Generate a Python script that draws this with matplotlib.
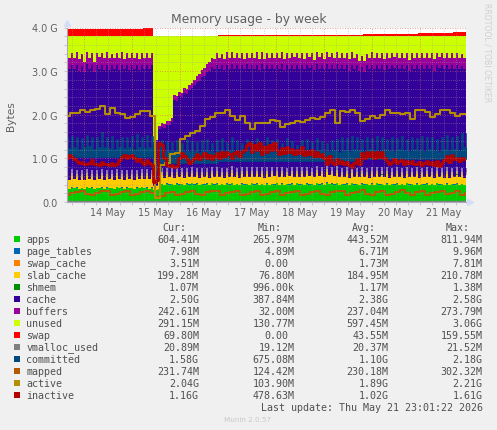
import numpy as np
import pandas as pd
import matplotlib
matplotlib.use('Agg')
import matplotlib.pyplot as plt
from matplotlib.dates import DayLocator, HourLocator

# values in GB, one sample per 75 min (161 samples)
apps = [.32,.30,.33,.31,.33,.30,.32,.30,.34,.31,
        .33,.30,.32,.31,.33,.30,.33,.31,.32,.30,
        .34,.31,.33,.30,.33,.31,.32,.30,.33,.31,
        .34,.31,.33,.30,.33,.28,.27,.30,.41,.39,
        .42,.40,.41,.38,.42,.40,.41,.39,.42,.40,
        .43,.40,.42,.39,.41,.40,.42,.39,.43,.40,
        .42,.39,.41,.38,.42,.40,.43,.39,.41,.38,
        .42,.40,.41,.39,.43,.40,.42,.39,.41,.38,
        .42,.39,.41,.40,.43,.39,.42,.38,.41,.40,
        .42,.39,.43,.40,.41,.38,.42,.40,.41,.39,
        .43,.40,.42,.39,.44,.41,.42,.40,.43,.39,
        .41,.40,.42,.38,.43,.40,.41,.39,.42,.40,
        .41,.38,.42,.39,.43,.40,.41,.39,.42,.38,
        .41,.40,.42,.39,.41,.38,.43,.40,.41,.39,
        .42,.38,.41,.40,.42,.39,.41,.38,.43,.40,
        .41,.39,.42,.38,.41,.40,.42,.39,.41,.38,
        .41]
slab_cache = [.24,.20,.25,.21,.24,.20,.24,.20,.25,.21,
              .24,.20,.24,.21,.25,.20,.24,.21,.24,.20,
              .25,.21,.24,.20,.24,.21,.25,.20,.24,.21,
              .24,.20,.25,.21,.24,.08,.09,.16,.20,.16,
              .20,.16,.20,.16,.20,.16,.20,.16,.20,.16,
              .20,.16,.20,.16,.20,.16,.20,.16,.20,.16,
              .21,.17,.21,.17,.20,.17,.22,.18,.21,.17,
              .21,.17,.22,.18,.21,.17,.21,.18,.22,.17,
              .21,.17,.22,.18,.21,.17,.22,.18,.21,.18,
              .22,.18,.21,.17,.22,.18,.22,.18,.21,.18,
              .23,.18,.22,.18,.23,.19,.22,.18,.22,.17,
              .21,.17,.21,.17,.22,.17,.21,.17,.21,.16,
              .21,.17,.21,.17,.21,.16,.21,.17,.21,.17,
              .20,.16,.21,.17,.20,.17,.21,.16,.20,.17,
              .21,.17,.20,.16,.21,.17,.20,.16,.21,.17,
              .20,.16,.21,.17,.20,.16,.20,.17,.20,.16,
              .20]
cache = [2.57,2.54,2.56,2.52,2.57,2.50,2.55,2.48,2.56,2.52,
         2.57,2.46,2.56,2.53,2.56,2.52,2.57,2.50,2.56,2.54,
         2.55,2.50,2.57,2.53,2.56,2.50,2.56,2.54,2.57,2.50,
         2.55,2.52,2.56,2.53,2.57,.95,1.00,1.20,1.10,1.14,
         1.14,1.19,1.22,1.80,1.70,1.86,1.79,1.94,1.85,2.00,
         1.97,2.11,2.12,2.22,2.25,2.33,2.36,2.45,2.45,2.48,
         2.51,2.48,2.50,2.47,2.52,2.46,2.50,2.48,2.52,2.49,
         2.50,2.46,2.52,2.47,2.50,2.48,2.51,2.44,2.52,2.49,
         2.50,2.48,2.50,2.47,2.49,2.48,2.51,2.46,2.50,2.47,
         2.50,2.48,2.49,2.46,2.51,2.47,2.50,2.48,2.50,2.44,
         2.49,2.47,2.50,2.46,2.48,2.45,2.50,2.47,2.50,2.48,
         2.51,2.48,2.50,2.45,2.49,2.47,2.50,2.44,2.46,2.42,
         2.50,2.48,2.51,2.47,2.50,2.48,2.50,2.46,2.51,2.48,
         2.52,2.49,2.50,2.47,2.51,2.48,2.50,2.44,2.51,2.48,
         2.50,2.49,2.52,2.48,2.50,2.47,2.51,2.46,2.50,2.48,
         2.52,2.49,2.50,2.48,2.51,2.47,2.52,2.48,2.50,2.49,
         2.50]
buffers = [.28,.26,.27,.24,.28,.26,.27,.22,.28,.26,
           .26,.24,.28,.27,.27,.26,.28,.26,.27,.25,
           .27,.26,.28,.24,.27,.26,.28,.26,.27,.25,
           .28,.26,.27,.26,.27,.05,.05,.08,.09,.09,
           .09,.09,.09,.10,.10,.10,.10,.11,.11,.12,
           .12,.13,.14,.15,.16,.17,.18,.20,.22,.24,
           .26,.25,.27,.26,.28,.26,.27,.25,.27,.26,
           .28,.25,.26,.26,.27,.25,.28,.26,.27,.24,
           .27,.26,.28,.25,.27,.26,.27,.26,.28,.25,
           .27,.26,.28,.26,.27,.25,.27,.26,.28,.24,
           .27,.26,.27,.25,.28,.26,.27,.25,.27,.26,
           .28,.25,.27,.26,.28,.25,.27,.22,.24,.24,
           .27,.26,.28,.25,.27,.26,.28,.25,.27,.26,
           .28,.26,.27,.25,.28,.26,.27,.25,.28,.26,
           .27,.26,.28,.26,.27,.25,.28,.26,.27,.26,
           .28,.25,.27,.26,.28,.26,.27,.25,.28,.26,
           .27]
ram_total = 3.815

# slow series as level + how many samples it holds
swap_levels = [.155, .165, 0, .008, .035, .06, .085]
swap_runs = [31, 4, 26, 58, 22, 14, 6]
page_tables_levels = [.007, .005, .007]
page_tables_runs = [35, 26, 100]
swap_cache_levels = [.002, 0, .001, .003]
swap_cache_runs = [35, 26, 60, 40]
shmem_levels = [.001]
shmem_runs = [161]
vmalloc_levels = [.02]
vmalloc_runs = [161]

committed = [1.48,1.24,1.52,1.26,1.50,1.22,1.46,1.25,1.54,1.28,
             1.48,1.22,1.50,1.26,1.60,1.25,1.48,1.24,1.52,1.22,
             1.44,1.26,1.50,1.24,1.48,1.25,1.52,1.22,1.56,1.26,
             1.50,1.24,1.54,1.25,1.52,.75,.90,1.35,1.42,1.18,
             1.40,1.16,1.38,1.18,1.42,1.15,1.36,1.18,1.44,1.16,
             1.40,1.18,1.38,1.14,1.42,1.16,1.44,1.18,1.36,1.15,
             1.42,1.18,1.46,1.16,1.38,1.20,1.48,1.16,1.42,1.18,
             1.36,1.15,1.44,1.18,1.40,1.20,1.46,1.16,1.38,1.18,
             1.48,1.20,1.42,1.16,1.44,1.18,1.36,1.20,1.46,1.16,
             1.40,1.18,1.30,1.15,1.42,1.20,1.44,1.16,1.38,1.18,
             1.46,1.20,1.40,1.16,1.36,1.18,1.42,1.20,1.44,1.15,
             1.50,1.20,1.46,1.18,1.52,1.22,1.48,1.20,1.44,1.18,
             1.50,1.22,1.46,1.20,1.52,1.18,1.48,1.22,1.44,1.20,
             1.50,1.18,1.46,1.22,1.52,1.20,1.44,1.18,1.50,1.22,
             1.46,1.20,1.52,1.18,1.48,1.22,1.50,1.20,1.44,1.18,
             1.50,1.22,1.54,1.20,1.48,1.22,1.52,1.20,1.58,1.25,
             1.58]
committed_floor_levels = [1.03, .70, .90, .93, .99]
committed_floor_runs = [35, 3, 23, 58, 42]

inactive = [1.02,1.08,1.04,.98,.95,.90,.92,.88,.86,.90,
            .96,.88,.86,.84,.92,.86,.88,.84,.90,.85,
            .88,.96,1.04,1.08,1.00,1.06,1.08,1.00,.94,.98,
            .92,.86,.96,.90,.84,.45,.50,1.35,1.30,1.00,
            .85,.82,.85,.80,.82,1.00,1.12,1.06,.98,.90,
            .95,1.00,1.10,.98,1.05,1.12,1.00,1.08,.98,1.05,
            1.12,1.02,1.15,1.06,1.15,1.10,1.00,1.12,1.18,1.05,
            1.15,1.20,1.30,1.35,1.15,1.30,1.20,1.35,1.10,1.25,
            1.15,1.30,1.20,1.35,1.20,1.10,1.24,1.12,1.25,1.15,
            1.22,1.10,1.20,1.12,1.25,1.08,1.18,1.10,1.20,1.05,
            1.14,1.06,1.10,1.02,.88,1.05,.92,.86,.98,.90,
            .95,.88,.92,.84,.80,.90,.98,.88,1.12,1.00,
            1.14,1.05,1.15,1.02,1.14,1.04,1.15,1.00,.95,.88,
            .92,.98,.90,.94,.96,.88,.95,.90,.94,.88,
            .86,.92,.84,.90,.95,.86,.92,.85,.94,.82,
            .90,.96,1.05,.92,1.08,.98,1.02,.95,1.00,.98,
            1.00]

# one sample per 150 min (81 samples)
active = [1.97,2.03,2.05,2.12,2.07,2.10,2.14,2.19,2.01,2.16,
          2.04,2.02,1.93,1.95,2.02,2.08,2.08,1.98,.10,.85,
          .90,1.10,1.12,1.45,1.52,1.58,1.62,1.75,1.90,1.95,
          2.03,2.04,2.10,1.98,1.88,1.98,1.80,1.68,1.82,1.80,
          1.82,1.88,1.86,1.72,1.78,1.82,1.85,1.84,1.88,1.92,
          1.90,1.95,2.03,2.10,1.80,2.08,2.07,2.10,2.05,1.85,
          1.90,1.98,1.92,2.00,2.12,2.05,2.05,2.02,2.05,1.90,
          2.12,2.10,2.06,1.95,2.02,2.10,2.10,2.05,1.97,2.02,
          2.02]
mapped = [.16,.20,.24,.25,.18,.16,.21,.25,.26,.17,
          .18,.22,.25,.16,.19,.23,.26,.20,.12,.14,
          .20,.24,.17,.19,.24,.26,.18,.17,.22,.25,
          .26,.16,.20,.24,.26,.17,.19,.23,.25,.16,
          .18,.23,.26,.17,.20,.24,.25,.16,.19,.23,
          .26,.18,.17,.22,.25,.26,.17,.20,.24,.27,
          .18,.17,.22,.25,.16,.19,.24,.28,.20,.17,
          .23,.26,.16,.20,.24,.25,.18,.21,.26,.17,
          .20]

legend_names = ['apps', 'page_tables', 'swap_cache', 'slab_cache', 'shmem', 'cache', 'buffers',
                'unused', 'swap', 'vmalloc_used', 'committed', 'mapped', 'active', 'inactive']
legend_colors = ['#00CC00', '#0066B3', '#FF8000', '#FFCC00', '#008F00', '#330099', '#990099',
                 '#CCFF00', '#FF0000', '#808080', '#00487D', '#B35A00', '#B38F00', '#B30000']
cur_vals = ['604.41M', '7.98M', '3.51M', '199.28M', '1.07M', '2.50G', '242.61M',
            '291.15M', '69.80M', '20.89M', '1.58G', '231.74M', '2.04G', '1.16G']
min_vals = ['265.97M', '4.89M', '0.00 ', '76.80M', '996.00k', '387.84M', '32.00M',
            '130.77M', '0.00 ', '19.12M', '675.08M', '124.42M', '103.90M', '478.63M']
avg_vals = ['443.52M', '6.71M', '1.73M', '184.95M', '1.17M', '2.38G', '237.04M',
            '597.45M', '43.55M', '20.37M', '1.10G', '230.18M', '1.89G', '1.02G']
max_vals = ['811.94M', '9.96M', '7.81M', '210.78M', '1.38M', '2.58G', '273.79M',
            '3.06G', '159.55M', '21.52M', '2.18G', '302.32M', '2.21G', '1.61G']

fig_w, fig_h = 497, 431
fringe_tan = .07
fringe_lav = .16

times = pd.date_range('2026-05-13 15:30', periods=161, freq='75min')
times_coarse = pd.date_range('2026-05-13 15:30', periods=81, freq='150min')

apps = np.array(apps)
slab_cache = np.array(slab_cache)
cache = np.array(cache)
buffers = np.array(buffers)
swap = np.repeat(swap_levels, swap_runs)
page_tables = np.repeat(page_tables_levels, page_tables_runs)
swap_cache = np.repeat(swap_cache_levels, swap_cache_runs)
shmem = np.repeat(shmem_levels, shmem_runs)
vmalloc_used = np.repeat(vmalloc_levels, vmalloc_runs)
committed_floor = np.repeat(committed_floor_levels, committed_floor_runs)

# unused is whatever is left of the RAM
unused = ram_total - apps - page_tables - swap_cache - slab_cache - shmem - cache - buffers

fig = plt.figure(figsize=(fig_w / 100, fig_h / 100), dpi=100, facecolor='#F0F0F0')
ax = fig.add_axes([67 / fig_w, (fig_h - 203) / fig_h, 399 / fig_w, 174.5 / fig_h], facecolor='white')

ax.stackplot(times, apps, page_tables, swap_cache, slab_cache, shmem, cache, buffers, unused, swap,
             colors=legend_colors[:9], step='mid', linewidth=0, zorder=1)

# pale columns sitting on top of the yellow band, only where slab_cache peaks
low_top = apps + page_tables + swap_cache + slab_cache + shmem
peaks = slab_cache > pd.Series(slab_cache).rolling(3, center=True, min_periods=1).mean().values
peaks[35:38] = False
ax.fill_between(times, low_top, low_top + fringe_lav * peaks, step='mid', color='#8c7cb0', lw=0, zorder=1.2)
ax.fill_between(times, low_top, low_top + fringe_tan * peaks, step='mid', color='#c4ae62', lw=0, zorder=1.3)

ax.plot(times, vmalloc_used, color='#808080', lw=1, zorder=2)
ax.fill_between(times, committed_floor, committed, step='mid', facecolor='#00487D', edgecolor='#00487D', lw=.4, zorder=2)
ax.step(times_coarse, mapped, where='mid', color='#B35A00', lw=1.5, zorder=2)
ax.step(times_coarse, active, where='mid', color='#B38F00', lw=1.5, zorder=2)
ax.step(times, inactive, where='mid', color='#B30000', lw=2, zorder=2)

ax.set_xlim(times[0], times[0] + pd.Timedelta(hours=199.5))
ax.set_ylim(0, 4.0)

ax.xaxis.set_major_locator(DayLocator())
ax.xaxis.set_minor_locator(HourLocator(byhour=[6, 12, 18]))
ax.set_xticklabels([])
ax.set_yticks([0, 1, 2, 3, 4])
ax.set_yticks(np.arange(0, 4.01, .2), minor=True)
ax.set_yticklabels(['0.0', '1.0 G', '2.0 G', '3.0 G', '4.0 G'], fontsize=6.9, color='#606060')
ax.tick_params(axis='both', which='both', length=2, width=.5, color='#c0b0c0', pad=5)
ax.tick_params(axis='x', labelbottom=False)

ax.set_axisbelow(False)
ax.grid(which='minor', color='#a0a0a0', lw=.5, ls=(0, (1, 2)), alpha=.8)
ax.grid(which='major', color='#e06060', lw=.6, ls=(0, (1, 2)), alpha=.8)

for side in ['top', 'right']:
    ax.spines[side].set_visible(False)
for side in ['left', 'bottom']:
    ax.spines[side].set_color('#a8a8b8')
    ax.spines[side].set_linewidth(.8)

# little axis arrows
ax.plot([0], [1.025], marker='^', ms=4, color='#d4dcf8', transform=ax.transAxes, clip_on=False)
ax.plot([1.01], [0], marker='>', ms=4, color='#d4dcf8', transform=ax.transAxes, clip_on=False)

for day, label in zip(range(14, 22), ['14 May', '15 May', '16 May', '17 May', '18 May', '19 May', '20 May', '21 May']):
    ax.text(pd.Timestamp(2026, 5, day, 12), -.055, label, transform=ax.get_xaxis_transform(),
            ha='center', va='center', fontsize=6.9, color='#606060')


def px_text(x, y, s, **kw):
    fig.text(x / fig_w, 1 - y / fig_h, s, **kw)


px_text(248.5, 19, 'Memory usage - by week', ha='center', va='center', fontsize=8.9, color='#606060')
px_text(11, 116, 'Bytes', ha='center', va='center', rotation=90, fontsize=7.6, color='#606060')
px_text(487, 53, 'RRDTOOL / TOBI OETIKER', ha='center', va='center', rotation=270, fontsize=5.6, color='#d0d0d0')

mono = {'family': 'DejaVu Sans Mono', 'fontsize': 7.2, 'color': '#505050', 'va': 'center'}
for x, head in zip([186, 281.7, 375.7, 470], ['Cur:', 'Min:', 'Avg:', 'Max:']):
    px_text(x, 227.7, head, ha='right', **mono)

columns = [(199, cur_vals), (294.3, min_vals), (388.3, avg_vals), (482.7, max_vals)]
for row, (name, color) in enumerate(zip(legend_names, legend_colors)):
    y = 239.7 + 12 * row
    fig.patches.append(plt.Rectangle((14 / fig_w, 1 - (y + 3) / fig_h), 6 / fig_w, 6 / fig_h,
                                     transform=fig.transFigure, facecolor=color, edgecolor='none'))
    px_text(26.3, y, name, ha='left', **mono)
    for right, vals in columns:
        val = vals[row]
        shift = 6 * (len(val) - len(val.rstrip()))
        px_text(right - shift, y, val.rstrip(), ha='right', **mono)

px_text(482.7, 407.7, 'Last update: Thu May 21 23:01:22 2026', ha='right', **mono)
px_text(248, 420, 'Munin 2.0.57', ha='center', va='center', fontsize=5.2, color='#c8c8c8')

fig.savefig('out.png', dpi=100, facecolor=fig.get_facecolor())
